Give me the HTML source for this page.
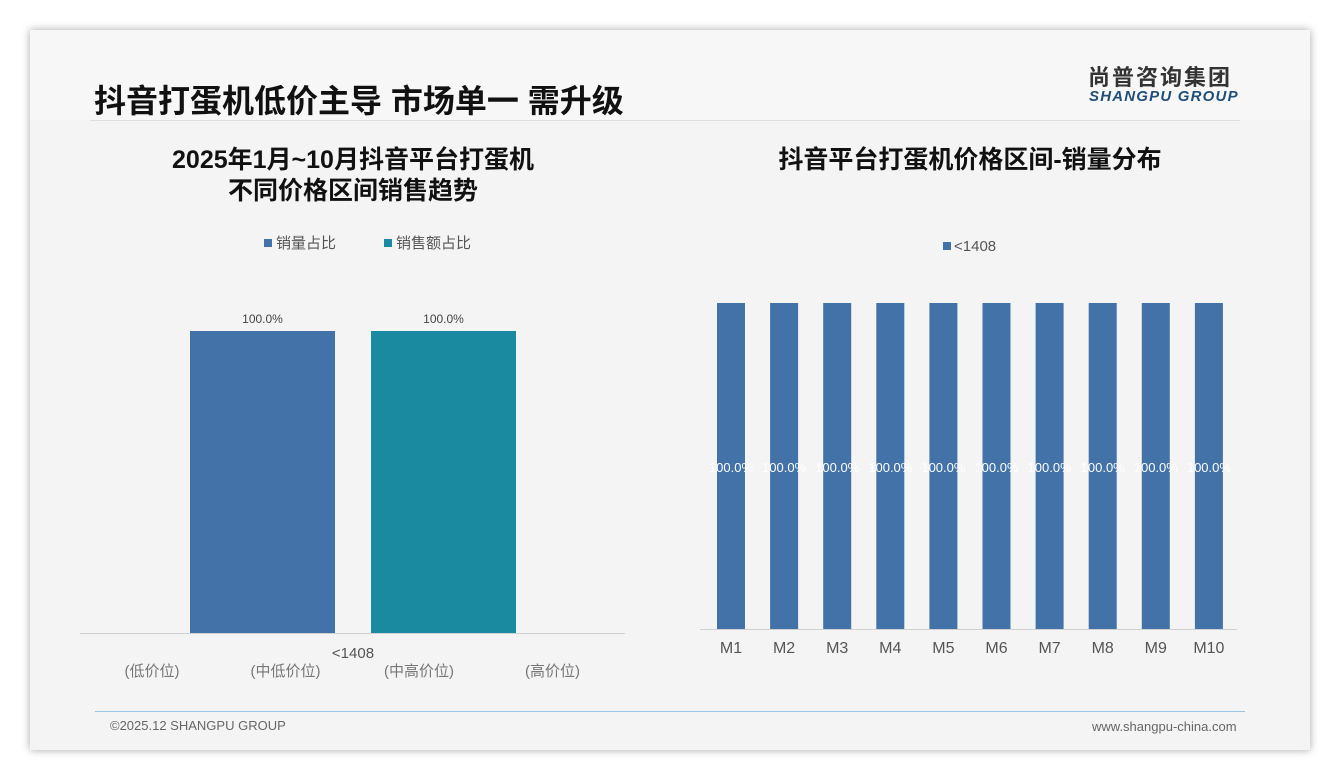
<!DOCTYPE html>
<html><head><meta charset="utf-8"><style>
body{margin:0;width:1340px;height:780px;background:#fff;font-family:"Liberation Sans","Noto Sans CJK SC",sans-serif;position:relative;overflow:hidden}
.slide{position:absolute;left:30px;top:30px;width:1280px;height:720px;background:#f4f4f4;box-shadow:0 0 8px rgba(0,0,0,.35)}
.abs{position:absolute;white-space:nowrap}
</style></head><body>
<div class="slide">
<div class="abs" style="left:0;top:0;width:1280px;height:90px;background:#f7f7f7"></div>
<div class="abs" style="left:60px;top:90px;width:1150px;height:1px;background:#dedede"></div>
<div class="abs" style="left:64px;top:46px;font-size:32px;font-weight:bold;color:#111">抖音打蛋机低价主导 市场单一 需升级</div>
<div class="abs" style="left:1058px;top:30px;font-size:22px;font-weight:bold;color:#333;letter-spacing:2px">尚普咨询集团</div>
<div class="abs" style="left:1059px;top:58px;font-size:15px;font-weight:bold;font-style:italic;color:#1f4e79;letter-spacing:1.2px">SHANGPU GROUP</div>
<div class="abs" style="left:98px;top:115px;width:450px;text-align:center;font-size:25px;font-weight:bold;color:#111;line-height:31px">2025年1月~10月抖音平台打蛋机<br>不同价格区间销售趋势</div>
<div class="abs" style="left:670px;top:115px;width:540px;text-align:center;font-size:25px;font-weight:bold;color:#111;line-height:31px">抖音平台打蛋机价格区间-销量分布</div>
<div class="abs" style="left:65px;top:681px;width:1150px;height:1px;background:#9dc3e6"></div>
<div class="abs" style="left:80px;top:688px;font-size:13px;color:#666">©2025.12 SHANGPU GROUP</div>
<div class="abs" style="left:1062px;top:689px;font-size:13px;color:#666">www.shangpu-china.com</div>
</div>
<svg id="c" width="1340" height="780" style="position:absolute;left:0;top:0"></svg>
<script>
const leftSeries=["销量占比","销售额占比"];
const leftValues=[100.0,100.0];
const leftCats=["<1408"];
const leftSub=["(低价位)","(中低价位)","(中高价位)","(高价位)"];
const rightCats=["M1","M2","M3","M4","M5","M6","M7","M8","M9","M10"];
const rightValues=[100,100,100,100,100,100,100,100,100,100];
const rightSeries=["<1408"];
const NS="http://www.w3.org/2000/svg",svg=document.getElementById('c');
function mk(t,a,txt){const e=document.createElementNS(NS,t);for(const k in a)e.setAttribute(k,a[k]);if(txt!=null)e.textContent=txt;svg.appendChild(e);return e;}
const colors=["#4272a8","#1a8aa0"];
const lY=v=>633-v/100*302;
let ln=mk('line',{x1:80,x2:625,y1:633.5,y2:633.5,stroke:'#d0d0d0'});
leftValues.forEach((v,i)=>{const x=190+i*181;
let r=mk('rect',{x:x,y:lY(v),width:145,height:633-lY(v),fill:colors[i]});
let t=mk('text',{x:x+72.5,y:lY(v)-8,'text-anchor':'middle','font-size':12,fill:'#444'},v.toFixed(1)+'%');});
let c0=mk('text',{x:353,y:658,'text-anchor':'middle','font-size':15,fill:'#555'},leftCats[0]);
leftSub.forEach((s,i)=>{let t=mk('text',{x:152+i*133.5,y:676,'text-anchor':'middle','font-size':15,fill:'#777'},s);});
leftSeries.forEach((s,i)=>{const x=264+i*120;
let r=mk('rect',{x:x,y:239,width:8,height:8,fill:colors[i]});
let t=mk('text',{x:x+12,y:248,'font-size':15,fill:'#555'},s);});
const rY=v=>629-v/100*326;
let rn=mk('line',{x1:700,x2:1237,y1:629.5,y2:629.5,stroke:'#d0d0d0'});
rightCats.forEach((c,i)=>{const cx=731+i*53.1,v=rightValues[i];
let r=mk('rect',{x:cx-14,y:rY(v),width:28,height:629-rY(v),fill:'#4272a8'});
let t=mk('text',{x:cx,y:472,'text-anchor':'middle','font-size':13,fill:'#fff'},v.toFixed(1)+'%');
let l=mk('text',{x:cx,y:653,'text-anchor':'middle','font-size':16,fill:'#555'},c);});
let rs=mk('rect',{x:943,y:242,width:8,height:8,fill:'#4272a8'});
let rt=mk('text',{x:954,y:251,'font-size':15,fill:'#555'},rightSeries[0]);
</script>
</body></html>
